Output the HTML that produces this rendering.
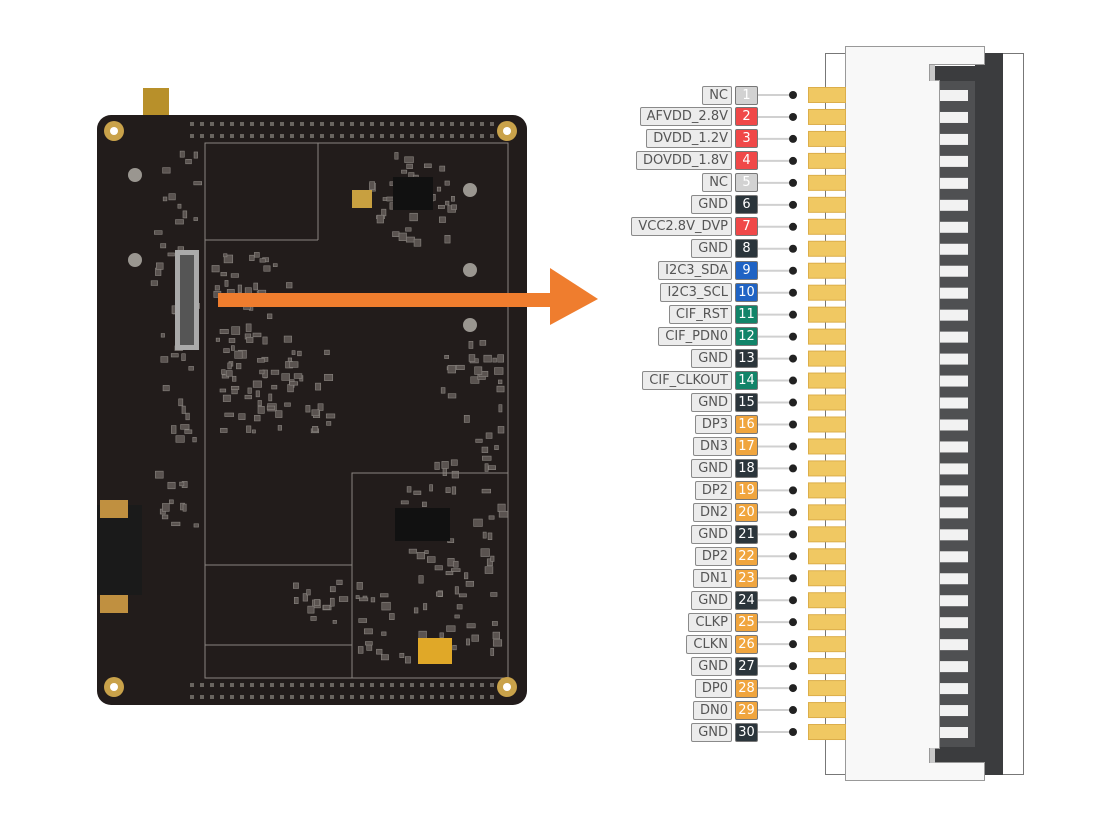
<!DOCTYPE html>
<html><head><meta charset="utf-8"><style>
body{margin:0;width:1110px;height:823px;background:#fff;position:relative;overflow:hidden;font-family:"DejaVu Sans","Liberation Sans",sans-serif}
.row{position:absolute;left:560px;width:198px;height:19px;display:flex;justify-content:flex-end;align-items:center}
.lab{height:17px;line-height:17px;border:1px solid #8a8a8a;border-radius:2px;background:#ececec;color:#555;font-size:13px;padding:0 3px 0 6px;margin-right:3px;white-space:nowrap}
.num{width:21px;height:17px;line-height:17px;border:1px solid #777;border-radius:2px;color:#fff;font-size:13px;text-align:center}
.g{background:#d2d2d2}.r{background:#f04848}.d{background:#2b353b}.b{background:#1f63c4}.t{background:#128469}.o{background:#f0a53e}
</style></head><body>
<svg width="1110" height="823" style="position:absolute;left:0;top:0">
<rect x="143" y="88" width="26" height="30" fill="#b8902a"/>
<rect x="97" y="115" width="430" height="590" rx="14" fill="#221c1b"/>
<g id="tex"></g>
<rect x="205" y="143" width="303" height="535" fill="none" stroke="#8a8580" stroke-width="1"/>
<line x1="205" y1="240" x2="318" y2="240" stroke="#8a8580"/><line x1="318" y1="143" x2="318" y2="240" stroke="#8a8580"/>
<rect x="352" y="473" width="156" height="205" fill="none" stroke="#8a8580"/>
<line x1="205" y1="565" x2="352" y2="565" stroke="#8a8580"/><line x1="205" y1="645" x2="352" y2="645" stroke="#8a8580"/>
<rect x="175" y="250" width="24" height="100" fill="#aaa"/><rect x="180" y="255" width="14" height="90" fill="#555"/>
<rect x="393" y="177" width="40" height="33" fill="#111"/><rect x="352" y="190" width="20" height="18" fill="#c8a040"/>
<rect x="395" y="508" width="55" height="33" fill="#111"/><rect x="418" y="638" width="34" height="26" fill="#e0a828"/>
<rect x="97" y="505" width="45" height="90" fill="#1a1a1a"/><rect x="100" y="500" width="28" height="18" fill="#c09040"/><rect x="100" y="595" width="28" height="18" fill="#c09040"/>
<g fill="#c9a24a"><circle cx="114" cy="131" r="10"/><circle cx="507" cy="131" r="10"/><circle cx="114" cy="687" r="10"/><circle cx="507" cy="687" r="10"/></g>
<g fill="#fff"><circle cx="114" cy="131" r="4"/><circle cx="507" cy="131" r="4"/><circle cx="114" cy="687" r="4"/><circle cx="507" cy="687" r="4"/></g>
<g fill="#9a9690"><circle cx="135" cy="175" r="7"/><circle cx="135" cy="260" r="7"/><circle cx="470" cy="190" r="7"/><circle cx="470" cy="270" r="7"/><circle cx="470" cy="325" r="7"/></g>
<line x1="190" y1="124" x2="500" y2="124" stroke="#6a6560" stroke-width="4" stroke-dasharray="4 6"/>
<line x1="190" y1="136" x2="500" y2="136" stroke="#6a6560" stroke-width="4" stroke-dasharray="4 6"/>
<line x1="190" y1="685" x2="495" y2="685" stroke="#6a6560" stroke-width="4" stroke-dasharray="4 6"/>
<line x1="190" y1="697" x2="495" y2="697" stroke="#6a6560" stroke-width="4" stroke-dasharray="4 6"/>
<rect x="218" y="293" width="336" height="14" fill="#ef7d2e"/>
<polygon points="550,268 598,299 550,325" fill="#ef7d2e"/>
<rect x="825.5" y="53.5" width="198" height="721" fill="#fff" stroke="#777"/>
<rect x="975" y="53" width="28" height="722" fill="#3b3c3e"/>
<rect x="940" y="80" width="35" height="668" fill="#4f5052"/>
<rect x="935" y="66" width="40" height="15" fill="#3b3c3e"/>
<rect x="935" y="747" width="40" height="15" fill="#3b3c3e"/>
<path d="M845.5,46.5 H984.5 V64.5 H929.5 V80.5 H939.5 V748.5 H929.5 V762.5 H984.5 V780.5 H845.5 Z" fill="#f8f8f8" stroke="#999"/>
<rect x="930" y="65" width="5" height="16" fill="#c8c8c8"/><rect x="930" y="748" width="5" height="15" fill="#c8c8c8"/>
<g id="pins"></g>
</svg>
<div id="rows"></div>
<script>
var d=[["NC","g"],["AFVDD_2.8V","r"],["DVDD_1.2V","r"],["DOVDD_1.8V","r"],["NC","g"],["GND","d"],["VCC2.8V_DVP","r"],["GND","d"],["I2C3_SDA","b"],["I2C3_SCL","b"],["CIF_RST","t"],["CIF_PDN0","t"],["GND","d"],["CIF_CLKOUT","t"],["GND","d"],["DP3","o"],["DN3","o"],["GND","d"],["DP2","o"],["DN2","o"],["GND","d"],["DP2","o"],["DN1","o"],["GND","d"],["CLKP","o"],["CLKN","o"],["GND","d"],["DP0","o"],["DN0","o"],["GND","d"]];
var h="",s="";
for(var i=0;i<30;i++){var y=95+i*21.966;
h+='<div class="row" style="top:'+(y-9.5)+'px"><div class="lab">'+d[i][0]+'</div><div class="num '+d[i][1]+'">'+(i+1)+'</div></div>';
s+='<line x1="758" y1="'+y+'" x2="793" y2="'+y+'" stroke="#d0d0d0" stroke-width="2"/><circle cx="793" cy="'+y+'" r="4" fill="#222"/>';
s+='<rect x="808.5" y="'+(y-7.5)+'" width="37" height="15" fill="#f0c862" stroke="#dcae4a"/>';
s+='<rect x="940" y="'+(y-5)+'" width="28" height="11" fill="#f2f2f2"/>';}
document.getElementById("rows").innerHTML=h;
document.getElementById("pins").innerHTML=s;
var t="",seed=7;function R(){seed=(seed*9301+49297)%233280;return seed/233280;}
var cl=[[210,250,80,100,40],[365,150,90,90,40],[220,350,110,80,60],[150,150,45,380,50],[400,460,100,120,40],[440,340,60,140,30],[355,580,140,80,40],[290,580,50,50,15]];
cl.forEach(function(c){for(var k=0;k<c[4];k++){t+='<rect x="'+(c[0]+R()*c[2])+'" y="'+(c[1]+R()*c[3])+'" width="'+(3+R()*6)+'" height="'+(3+R()*5)+'" fill="#5a5350" stroke="#8a8580" stroke-width="0.6"/>';}});
document.getElementById("tex").innerHTML=t;
</script>
</body></html>
